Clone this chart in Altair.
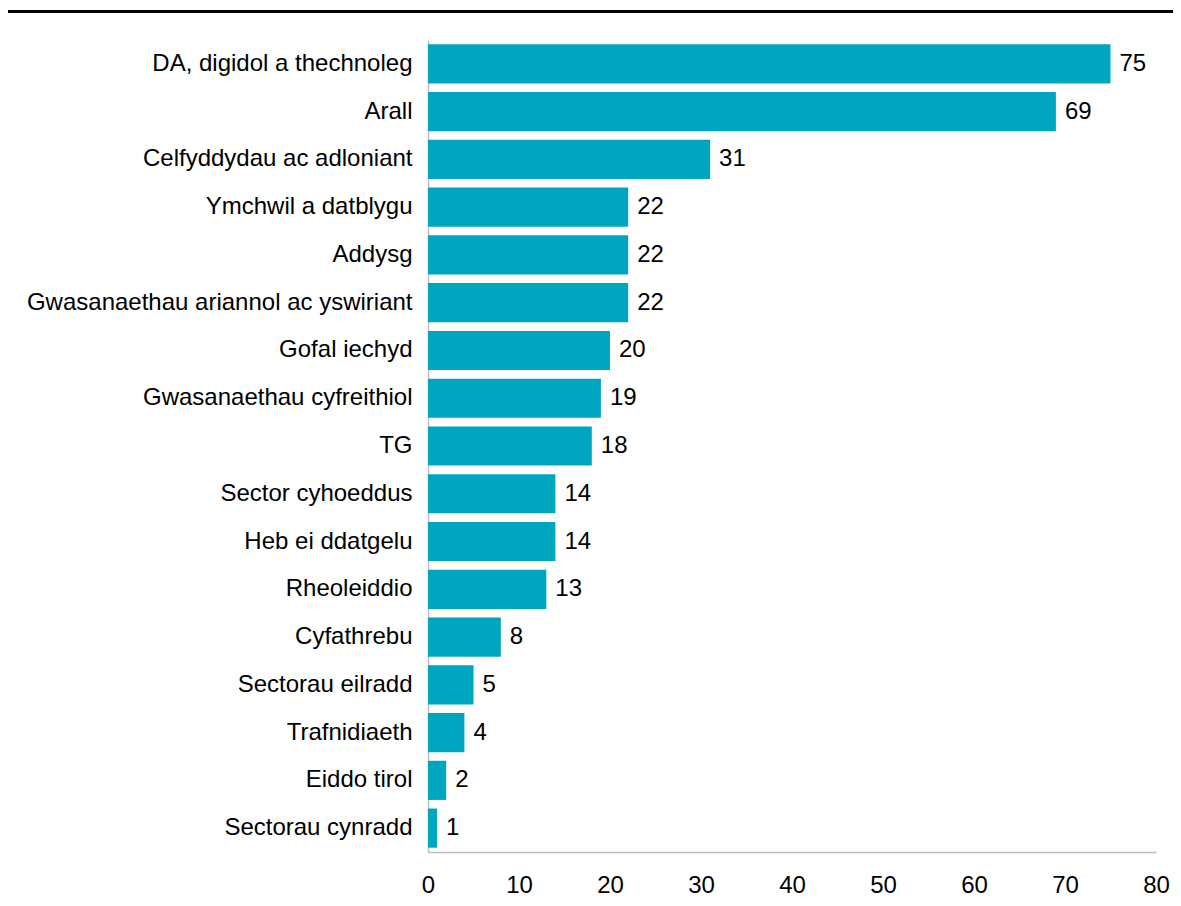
import altair as alt
import pandas as pd

categories = [
    "DA, digidol a thechnoleg", "Arall", "Celfyddydau ac adloniant",
    "Ymchwil a datblygu", "Addysg", "Gwasanaethau ariannol ac yswiriant",
    "Gofal iechyd", "Gwasanaethau cyfreithiol", "TG", "Sector cyhoeddus",
    "Heb ei ddatgelu", "Rheoleiddio", "Cyfathrebu", "Sectorau eilradd",
    "Trafnidiaeth", "Eiddo tirol", "Sectorau cynradd",
]
values = [75, 69, 31, 22, 22, 22, 20, 19, 18, 14, 14, 13, 8, 5, 4, 2, 1]
x_ticks = [0, 10, 20, 30, 40, 50, 60, 70, 80]

df = pd.DataFrame({"category": categories, "value": values})

FONT = "Liberation Sans"
FS = 24
BAR = "#00A5C0"

y_enc = alt.Y("category:N", sort=categories, title=None,
              scale=alt.Scale(paddingInner=0.18, paddingOuter=0.09),
              axis=alt.Axis(labelFontSize=FS, labelFont=FONT, labelColor="#000",
                            labelPadding=16, ticks=False, tickSize=0,
                            domainColor="#c0c0c0", domainWidth=1.5,
                            labelLimit=600))
x_enc = alt.X("value:Q", title=None,
              scale=alt.Scale(domain=[0, 80], nice=False),
              axis=alt.Axis(values=x_ticks, labelFontSize=FS, labelFont=FONT,
                            labelColor="#000", labelPadding=21, ticks=False,
                            tickSize=0, grid=False, domainColor="#c0c0c0",
                            domainWidth=1.5, labelFlush=False,
                            labelOverlap=False))

bars = alt.Chart(df).mark_bar(color=BAR).encode(x=x_enc, y=y_enc)
labels = alt.Chart(df).mark_text(align="left", baseline="middle", dx=9,
                                 fontSize=FS, font=FONT, color="#000").encode(
    x="value:Q", y=alt.Y("category:N", sort=categories), text="value:Q")

top_line = alt.Chart(pd.DataFrame({"a": [0]})).mark_rule(
    color="#000", strokeWidth=3).encode(
    x=alt.value(-420), x2=alt.value(760), y=alt.value(-28.5))

chart = alt.layer(bars, labels, top_line).properties(
    width=728, height=812,
    autosize=alt.AutoSizeParams(type="none"),
    padding={"left": 420, "top": 32, "right": 17, "bottom": 46},
).configure_view(stroke=None)

chart.save("out.html", embed_options={"renderer": "svg", "actions": False})
